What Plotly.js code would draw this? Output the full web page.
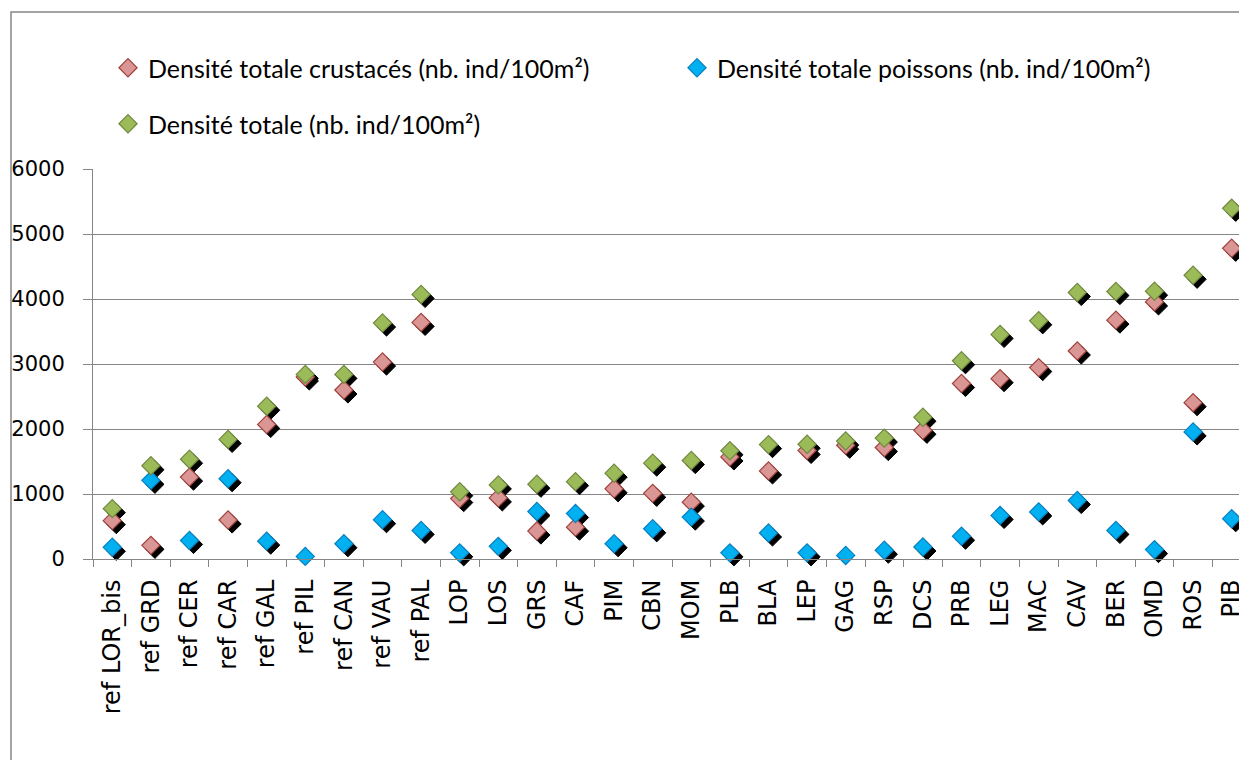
<!DOCTYPE html>
<html>
<head>
<meta charset="utf-8">
<script src="https://cdn.plot.ly/plotly-3.0.1.min.js"></script>
<style>
html,body{margin:0;padding:0;background:#fff;}
#chart{width:1239px;height:760px;}
</style>
</head>
<body>
<div id="chart"></div>
<script>
const categories = ['ref LOR_bis','ref GRD','ref CER','ref CAR','ref GAL','ref PIL','ref CAN','ref VAU','ref PAL','LOP','LOS','GRS','CAF','PIM','CBN','MOM','PLB','BLA','LEP','GAG','RSP','DCS','PRB','LEG','MAC','CAV','BER','OMD','ROS','PIB'];
const crustaces = [590, 210, 1260, 600, 2070, 2800, 2600, 3030, 3640, 930, 940, 430, 490, 1080, 1010, 875, 1570, 1355, 1670, 1750, 1715, 1980, 2700, 2775, 2945, 3200, 3675, 3955, 2405, 4780];
const poissons = [180, 1210, 285, 1235, 275, 40, 235, 605, 440, 95, 195, 730, 700, 235, 465, 645, 95, 400, 95, 55, 135, 185, 350, 670, 725, 900, 440, 145, 1955, 620];
const total = [775, 1435, 1535, 1840, 2350, 2840, 2840, 3630, 4070, 1035, 1140, 1150, 1190, 1320, 1475, 1515, 1665, 1760, 1765, 1815, 1860, 2180, 3050, 3455, 3665, 4100, 4115, 4120, 4365, 5395];
const seriesNames = ['Densité totale crustacés (nb. ind/100m²)', 'Densité totale poissons (nb. ind/100m²)', 'Densité totale (nb. ind/100m²)'];
const yTicks = [0, 1000, 2000, 3000, 4000, 5000, 6000];

const W = 1239, H = 760;
const mL = 93, mR = 0, mT = 169, mB = 201;
const plotW = W - mL - mR, plotH = H - mT - mB;
const catPx = 38.6;
const xMin = -0.5, xMax = xMin + plotW / catPx;
const yMin = 0, yMax = 6000;
const shPx = 4;
const dx = shPx / catPx;
const dy = shPx * (yMax - yMin) / plotH;

const LEG_FONT = 'Lato, "Open Sans", sans-serif';
const AX_FONT = '"DejaVu Sans", Verdana, sans-serif';
const fills = ['#D99694', '#00B0F0', '#9BBB59'];
const edges = ['#A0413D', '#0A7FC0', '#71893F'];
const data = [crustaces, poissons, total];
const legends = ['legend', 'legend2', 'legend3'];
const MS = 14;

const traces = [];
// shadows on base axes (shifted)
data.forEach((vals) => {
  traces.push({
    type: 'scatter', mode: 'markers', x: categories, y: vals,
    xaxis: 'x', yaxis: 'y', showlegend: false, hoverinfo: 'skip', cliponaxis: false,
    marker: {symbol: 'diamond', size: MS, color: '#000', line: {width: 1, color: '#000'}}
  });
});
// colored markers on overlay axes
data.forEach((vals, i) => {
  traces.push({
    type: 'scatter', mode: 'markers', x: categories, y: vals, name: seriesNames[i],
    xaxis: 'x2', yaxis: 'y2', cliponaxis: false, legend: legends[i],
    marker: {symbol: 'diamond', size: MS, color: fills[i], line: {width: 1.2, color: edges[i]}}
  });
});

const legBase = {
  orientation: 'h', xanchor: 'left', yanchor: 'middle',
  font: {family: LEG_FONT, size: 25, color: '#000'}, bgcolor: 'rgba(0,0,0,0)', borderwidth: 0
};
function px2xp(px){ return (px - mL) / plotW; }
function py2yp(py){ return (H - mB - py) / plotH; }

const layout = {
  width: W, height: H,
  margin: {l: mL, r: mR, t: mT, b: mB, pad: 0},
  paper_bgcolor: '#fff', plot_bgcolor: 'rgba(0,0,0,0)',
  font: {family: AX_FONT, size: 21, color: '#000'},
  xaxis: {type: 'category', categoryorder: 'array', categoryarray: categories,
          range: [xMin - dx, xMax - dx], visible: false, fixedrange: true},
  yaxis: {range: [yMin + dy, yMax + dy], visible: false, fixedrange: true},
  xaxis2: {type: 'category', categoryorder: 'array', categoryarray: categories,
           overlaying: 'x', side: 'bottom', anchor: 'y2',
           range: [xMin, xMax], showgrid: false, zeroline: false,
           showline: true, linecolor: '#868686', linewidth: 1,
           ticks: 'outside', tickson: 'boundaries', ticklen: 7, tickcolor: '#868686', tickwidth: 1,
           tickangle: -90, ticklabelstandoff: 10,
           tickfont: {family: AX_FONT, size: 24, color: '#000'}, fixedrange: true},
  yaxis2: {overlaying: 'y', side: 'left', anchor: 'x2', range: [yMin, yMax],
           tickmode: 'array', tickvals: yTicks, ticktext: yTicks.map(String),
           showgrid: true, gridcolor: '#868686', gridwidth: 1,
           zeroline: false, showline: true, linecolor: '#868686', linewidth: 1,
           ticks: 'outside', ticklen: 9, tickcolor: '#868686', tickwidth: 1,
           ticklabelstandoff: 14,
           tickfont: {family: AX_FONT, size: 21, color: '#000'}, fixedrange: true},
  legend: Object.assign({}, legBase, {x: px2xp(108), y: py2yp(68)}),
  legend2: Object.assign({}, legBase, {x: px2xp(677), y: py2yp(68)}),
  legend3: Object.assign({}, legBase, {x: px2xp(108), y: py2yp(124)}),
  shapes: [
    {type: 'rect', xref: 'paper', yref: 'paper', layer: 'below',
     x0: px2xp(11), x1: px2xp(W + 40), y0: py2yp(H + 40), y1: py2yp(12),
     line: {color: '#868686', width: 1.5}, fillcolor: 'rgba(0,0,0,0)'}
  ],
  showlegend: true
};

Plotly.newPlot('chart', traces, layout, {displayModeBar: false, staticPlot: true});
</script>
</body>
</html>
